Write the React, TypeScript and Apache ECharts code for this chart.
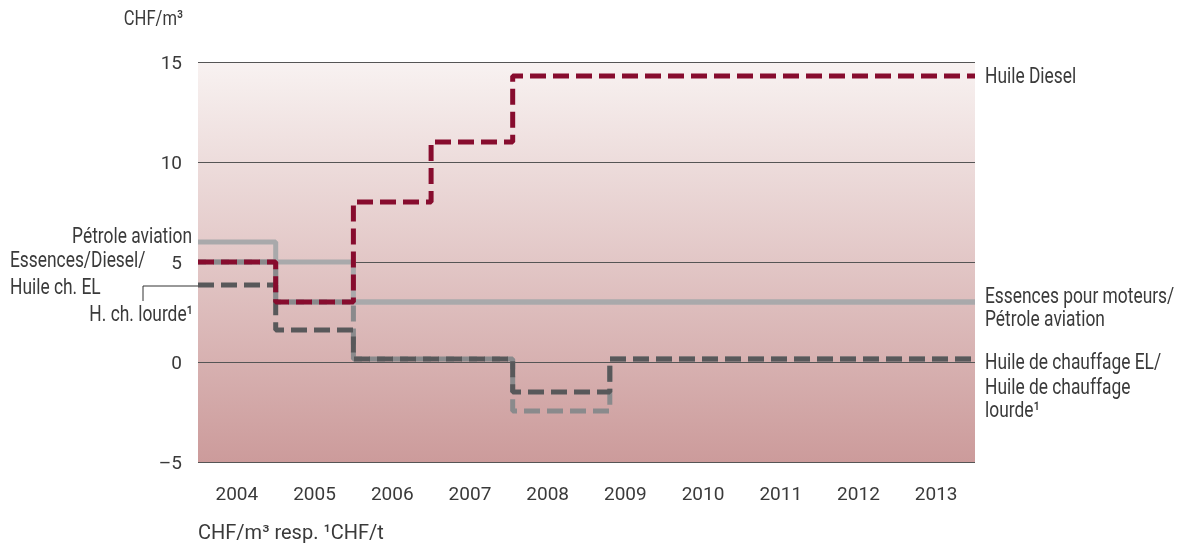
import React, { useEffect, useRef } from "react";
import * as echarts from "echarts";

// step boundaries (year positions) and values
const stepX = [2003.5, 2004.5, 2005.5, 2006.5, 2007.55, 2013.5];
const huileDiesel = [5, 3, 8, 11, 14.3, 14.3];
const essencesX = [2003.5, 2004.5, 2005.5, 2013.5];
const essences = [5, 3, 3, 3];
const petroleAviation = [6, 5, 3, 3];
const heatX = [2003.5, 2004.5, 2005.5, 2007.55, 2008.8, 2013.5];
const huileChEL = [5, 3, 0.15, -2.45, 0.15, 0.15];
const huileChLourde = [3.85, 1.6, 0.15, -1.5, 0.15, 0.15];
const yearLabels = [2004, 2005, 2006, 2007, 2008, 2009, 2010, 2011, 2012, 2013];

const TXT = "Roboto, sans-serif";
const NUM = "Roboto, sans-serif";
const C = "#3a3a3a";

function pairs(xs: number[], ys: number[]) {
  return xs.map((x, i) => [x, ys[i]]);
}

function label(text: string, x: number, y: number, align = "left", size = 22, sx = 0.79) {
  return {
    type: "text",
    x,
    y,
    scaleX: sx,
    silent: true,
    style: { text, fontSize: size, fontFamily: TXT, fill: C, align, verticalAlign: "middle" },
  };
}

export default function App() {
  const ref = useRef<HTMLDivElement>(null);
  useEffect(() => {
    document.body.style.margin = "0";
    const chart = echarts.init(ref.current!, null, { renderer: "svg" });
    const grid = { left: 198, right: 206, top: 62, bottom: 84 };
    chart.setOption({
      animation: false,
      grid: {
        ...grid,
        show: true,
        borderWidth: 0,
        backgroundColor: {
          type: "linear",
          x: 0, y: 0, x2: 0, y2: 1,
          colorStops: [
            { offset: 0, color: "#f8f2f1" },
            { offset: 1, color: "#cc9b9b" },
          ],
        },
      },
      xAxis: {
        type: "value",
        min: 2003.5,
        max: 2013.5,
        interval: 0.5,
        axisLine: { show: false },
        axisTick: { show: false },
        splitLine: { show: false },
        axisLabel: {
          margin: 22,
          fontSize: 19,
          fontFamily: NUM,
          color: C,
          showMinLabel: true,
          showMaxLabel: true,
          formatter: (v: number) => {
            const r = Math.round(v);
            return Math.abs(v - r) < 1e-6 && yearLabels.includes(r) ? String(r) : "";
          },
        },
      },
      yAxis: {
        type: "value",
        min: -5,
        max: 15,
        interval: 5,
        axisLine: { show: false },
        axisTick: { show: false },
        splitLine: { lineStyle: { color: "#555", width: 1.2 } },
        axisLabel: {
          margin: 16,
          fontSize: 19,
          fontFamily: NUM,
          color: C,
          formatter: (v: number) => (v < 0 ? "\u2013" + Math.abs(v) : String(v)),
        },
      },
      series: [
        {
          name: "Essences pour moteurs",
          type: "line",
          step: "end",
          symbol: "none",
          data: pairs(essencesX, essences),
          lineStyle: { color: "#a9a9ab", width: 5 },
        },
        {
          name: "Pétrole aviation",
          type: "line",
          step: "end",
          symbol: "none",
          data: pairs(essencesX, petroleAviation),
          lineStyle: { color: "#a9a9ab", width: 5 },
        },
        {
          name: "Huile de chauffage EL",
          type: "line",
          step: "end",
          symbol: "none",
          data: pairs(heatX, huileChEL),
          lineStyle: { color: "#8a8a8c", width: 5, type: [16, 7], dashOffset: 8 },
        },
        {
          name: "Huile de chauffage lourde",
          type: "line",
          step: "end",
          symbol: "none",
          data: pairs(heatX, huileChLourde),
          lineStyle: { color: "#58585a", width: 5, type: [16, 7] },
        },
        {
          name: "Huile Diesel",
          type: "line",
          step: "end",
          symbol: "none",
          data: pairs(stepX, huileDiesel),
          lineStyle: { color: "#870c2e", width: 5, type: [16, 7] },
        },
      ],
      graphic: [
        label("CHF/m\u00b3", 183, 18, "right", 21),
        label("Pétrole aviation", 192, 236, "right"),
        label("Essences/Diesel/", 10, 260, "left"),
        label("Huile ch. EL", 10, 287, "left"),
        label("H. ch. lourde\u00b9", 193, 314, "right"),
        {
          type: "polyline",
          silent: true,
          shape: { points: [[198, 286], [143, 286], [143, 301]] },
          style: { stroke: "#333", lineWidth: 1, fill: null },
        },
        label("Huile Diesel", 985, 76, "left"),
        label("Essences pour moteurs/", 985, 296, "left"),
        label("Pétrole aviation", 985, 319, "left"),
        label("Huile de chauffage EL/", 985, 362, "left"),
        label("Huile de chauffage", 985, 387, "left"),
        label("lourde\u00b9", 985, 410, "left"),
        label("CHF/m\u00b3 resp. \u00b9CHF/t", 198, 532, "left", 20, 1),
      ],
    });
    return () => chart.dispose();
  }, []);
  return <div ref={ref} style={{ position: "fixed", left: 0, top: 0, width: 1181, height: 546 }} />;
}
